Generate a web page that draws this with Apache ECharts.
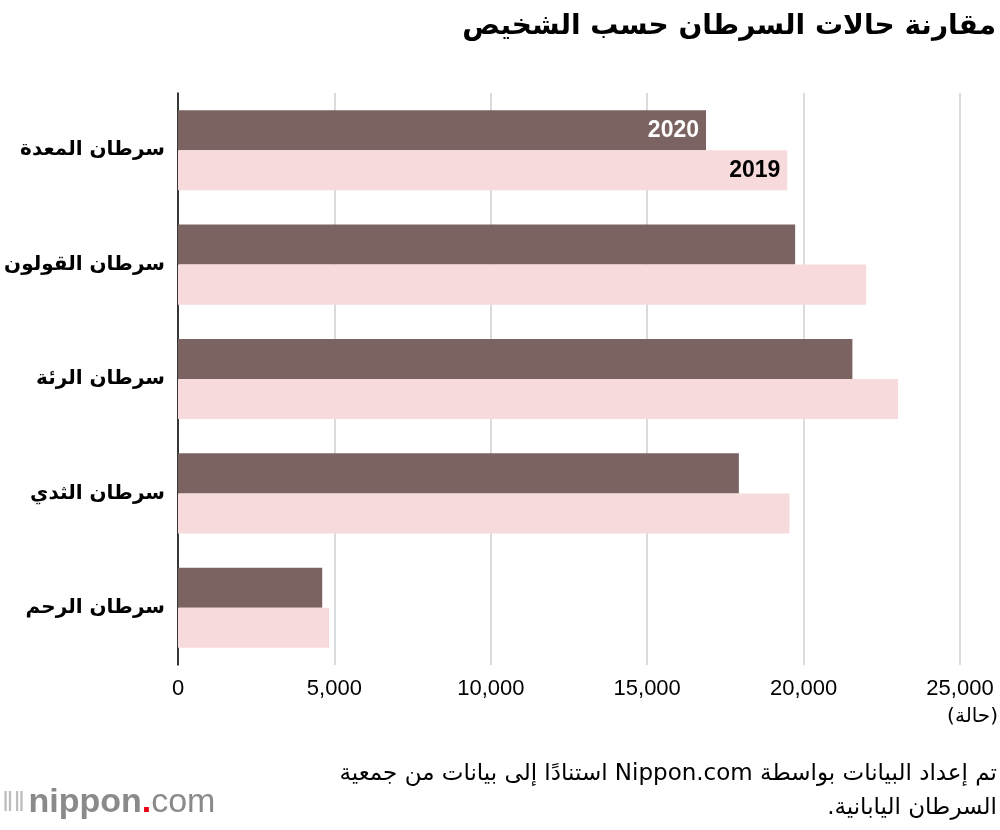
<!DOCTYPE html>
<html>
<head>
<meta charset="utf-8">
<script src="https://cdn.jsdelivr.net/npm/echarts@6/dist/echarts.min.js"></script>
<style>
    html, body { margin: 0; padding: 0; background: #fff; }
    #chart { width: 1000px; height: 830px; }
</style>
</head>
<body>
<div id="chart" dir="rtl"></div>
<script>
    // 数据
    var categories = ['سرطان المعدة', 'سرطان القولون', 'سرطان الرئة', 'سرطان الثدي', 'سرطان الرحم'];
    var values2020 = [16880, 19730, 21560, 17930, 4610];
    var values2019 = [19480, 22000, 23020, 19550, 4830];
    var xTicks = [0, 5000, 10000, 15000, 20000, 25000];

    var fontAr = "'DejaVu Sans', 'Noto Sans', sans-serif";
    var fontLat = "'Liberation Sans', Arial, sans-serif";

    function fmt(v) {
        return String(v).replace(/\B(?=(\d{3})+(?!\d))/g, ',');
    }

    // 只在第一组柱子上显示年份
    function withLabel(arr, text, color) {
        return arr.map(function (v, i) {
            if (i !== 0) return v;
            return {
                value: v,
                label: {
                    show: true,
                    position: 'insideRight',
                    formatter: text,
                    color: color,
                    fontSize: 23,
                    fontWeight: 'bold',
                    fontFamily: fontLat,
                    distance: 7
                }
            };
        });
    }

    var myChart = echarts.init(document.getElementById('chart'), null, { renderer: 'canvas' });
    var option = {
        backgroundColor: '#fff',
        animation: false,
        grid: {
            left: 178,
            right: 40,
            top: 93,
            bottom: 165,
            containLabel: false
        },
        xAxis: {
            type: 'value',
            min: xTicks[0],
            max: xTicks[xTicks.length - 1],
            interval: 5000,
            axisLine: { show: false },
            axisTick: { show: false },
            axisLabel: {
                color: '#000',
                fontSize: 22,
                fontFamily: fontLat,
                margin: 13,
                formatter: function (v) { return fmt(v); }
            },
            splitLine: { lineStyle: { color: '#cfcfcf', width: 1.5 } }
        },
        yAxis: {
            type: 'category',
            data: categories,
            inverse: true,
            axisLine: { show: true, lineStyle: { color: '#000', width: 1.5 } },
            axisTick: { show: false },
            axisLabel: {
                color: '#000',
                fontSize: 20,
                fontWeight: 'bold',
                fontFamily: fontAr,
                margin: 13
            }
        },
        series: [
            {
                name: '2020',
                type: 'bar',
                data: withLabel(values2020, '2020', '#fff'),
                itemStyle: { color: '#7b6361' },
                barGap: '0%',
                barCategoryGap: '30%'
            },
            {
                name: '2019',
                type: 'bar',
                data: withLabel(values2019, '2019', '#000'),
                itemStyle: { color: '#f7dadb' },
                barGap: '0%',
                barCategoryGap: '30%'
            }
        ],
        graphic: [
            {
                type: 'text',
                right: 4,
                top: 13,
                style: {
                    text: 'مقارنة حالات السرطان حسب الشخيص',
                    fill: '#000',
                    font: 'bold 28px ' + fontAr,
                    textAlign: 'right'
                }
            },
            {
                type: 'text',
                right: 2,
                top: 707,
                style: {
                    text: '(حالة)',
                    fill: '#000',
                    font: '20px ' + fontAr,
                    textAlign: 'right'
                }
            },
            {
                type: 'text',
                right: 3,
                top: 757,
                style: {
                    text: 'تم إعداد البيانات بواسطة Nippon.com استنادًا إلى بيانات من جمعية\nالسرطان اليابانية.',
                    fill: '#000',
                    font: '23px ' + fontAr,
                    lineHeight: 34,
                    align: 'right',
                    textAlign: 'right'
                }
            },
            {
                type: 'text',
                left: 2,
                top: 786,
                style: {
                    text: '{bars|‖‖} {a|nippon}{dot|.}{b|com}',
                    rich: {
                        bars: { fill: '#bdbdbd', font: '28px ' + fontLat },
                        a: { fill: '#8a8a8a', font: 'bold 34px ' + fontLat },
                        dot: { fill: '#e60012', font: 'bold 34px ' + fontLat },
                        b: { fill: '#8a8a8a', font: '34px ' + fontLat }
                    }
                }
            }
        ]
    };
    myChart.setOption(option);
</script>
</body>
</html>
